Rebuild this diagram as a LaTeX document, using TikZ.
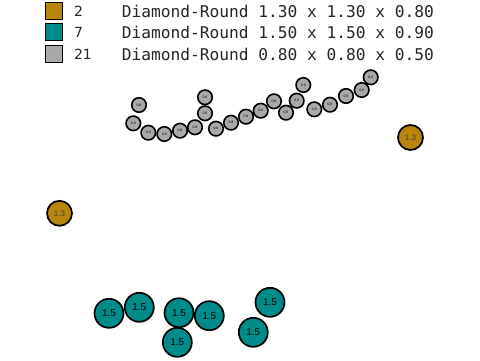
\documentclass[tikz,border=0pt]{standalone}
\usepackage{fontspec}
\setmainfont{Liberation Sans}
\newfontfamily\keyfont{DejaVu Sans}
\newfontfamily\monofont{DejaVu Sans Mono}
\usepackage{xcolor}
\usepackage{tikz}
\usetikzlibrary{positioning}
\definecolor{gold}{HTML}{B8860B}
\definecolor{teal}{HTML}{008B8B}
\definecolor{grey}{HTML}{A9A9A9}

\begin{document}
\begin{tikzpicture}[x=1pt,y=-1pt,
  big/.style={circle,draw=black,line width=1.7pt,fill=teal,minimum size=29pt,inner sep=0pt,font=\fontsize{10}{10}\selectfont},
  mid/.style={circle,draw=black,line width=1.7pt,fill=gold,minimum size=25pt,inner sep=0pt,font=\fontsize{8}{8}\selectfont,text=black!75},
  small/.style={circle,draw=black,line width=1.6pt,fill=grey,minimum size=14.5pt,inner sep=0pt,font=\fontsize{3.5}{3.5}\selectfont},
  swatch/.style={draw=black,line width=1.5pt,minimum size=17pt,inner sep=0pt},
  count/.style={anchor=west,font=\keyfont\fontsize{14}{14}\selectfont,text=black!85},
  spec/.style={anchor=west,font=\monofont\fontsize{16.2}{17}\selectfont,text=black!85}]
\useasboundingbox (0,0) rectangle (480,360);
% legend
\foreach \i/\y/\col/\n/\dim in {1/11/gold/2/1.30 x 1.30 x 0.80,
                                2/32/teal/7/1.50 x 1.50 x 0.90,
                                3/54/grey/21/0.80 x 0.80 x 0.50}{
  \node[swatch,fill=\col] (key\i) at (54,\y) {};
  \node[count] (num\i) at (70.5,\y) {\n};
  \node[spec] (lab\i) at (118.3,\y) {Diamond-Round \dim};
}
% small discs
\foreach \i/\x/\y in {1/139/105,2/133.3/123.3,3/148.3/132.7,4/164.3/134,5/180/130.7,
                      6/195/127.3,7/205/97.3,8/205/113.3,9/216/128.7,10/231/122.7,
                      11/246/116.7,12/260.7/110.7,13/274/101.3,14/286/112.7,15/296.7/100.7,
                      16/303.3/85,17/314.3/109.3,18/330/104.7,19/346/96,20/361.7/90,21/370.7/77.3}{
  \node[small] (s\i) at (\x,\y) {0.8};
}
% medium discs
\node[mid] (g1) at (410.5,137.5) {1.3};
\node[mid] (g2) at (59.5,213.3) {1.3};
% large discs
\foreach \i/\x/\y in {1/109/313.3,2/139.3/307.3,3/179/312.7,4/209.3/315.7,
                      5/177.3/342.3,6/270/302.3,7/253.3/332.3}{
  \node[big] (t\i) at (\x,\y) {1.5};
}
\end{tikzpicture}
\end{document}
